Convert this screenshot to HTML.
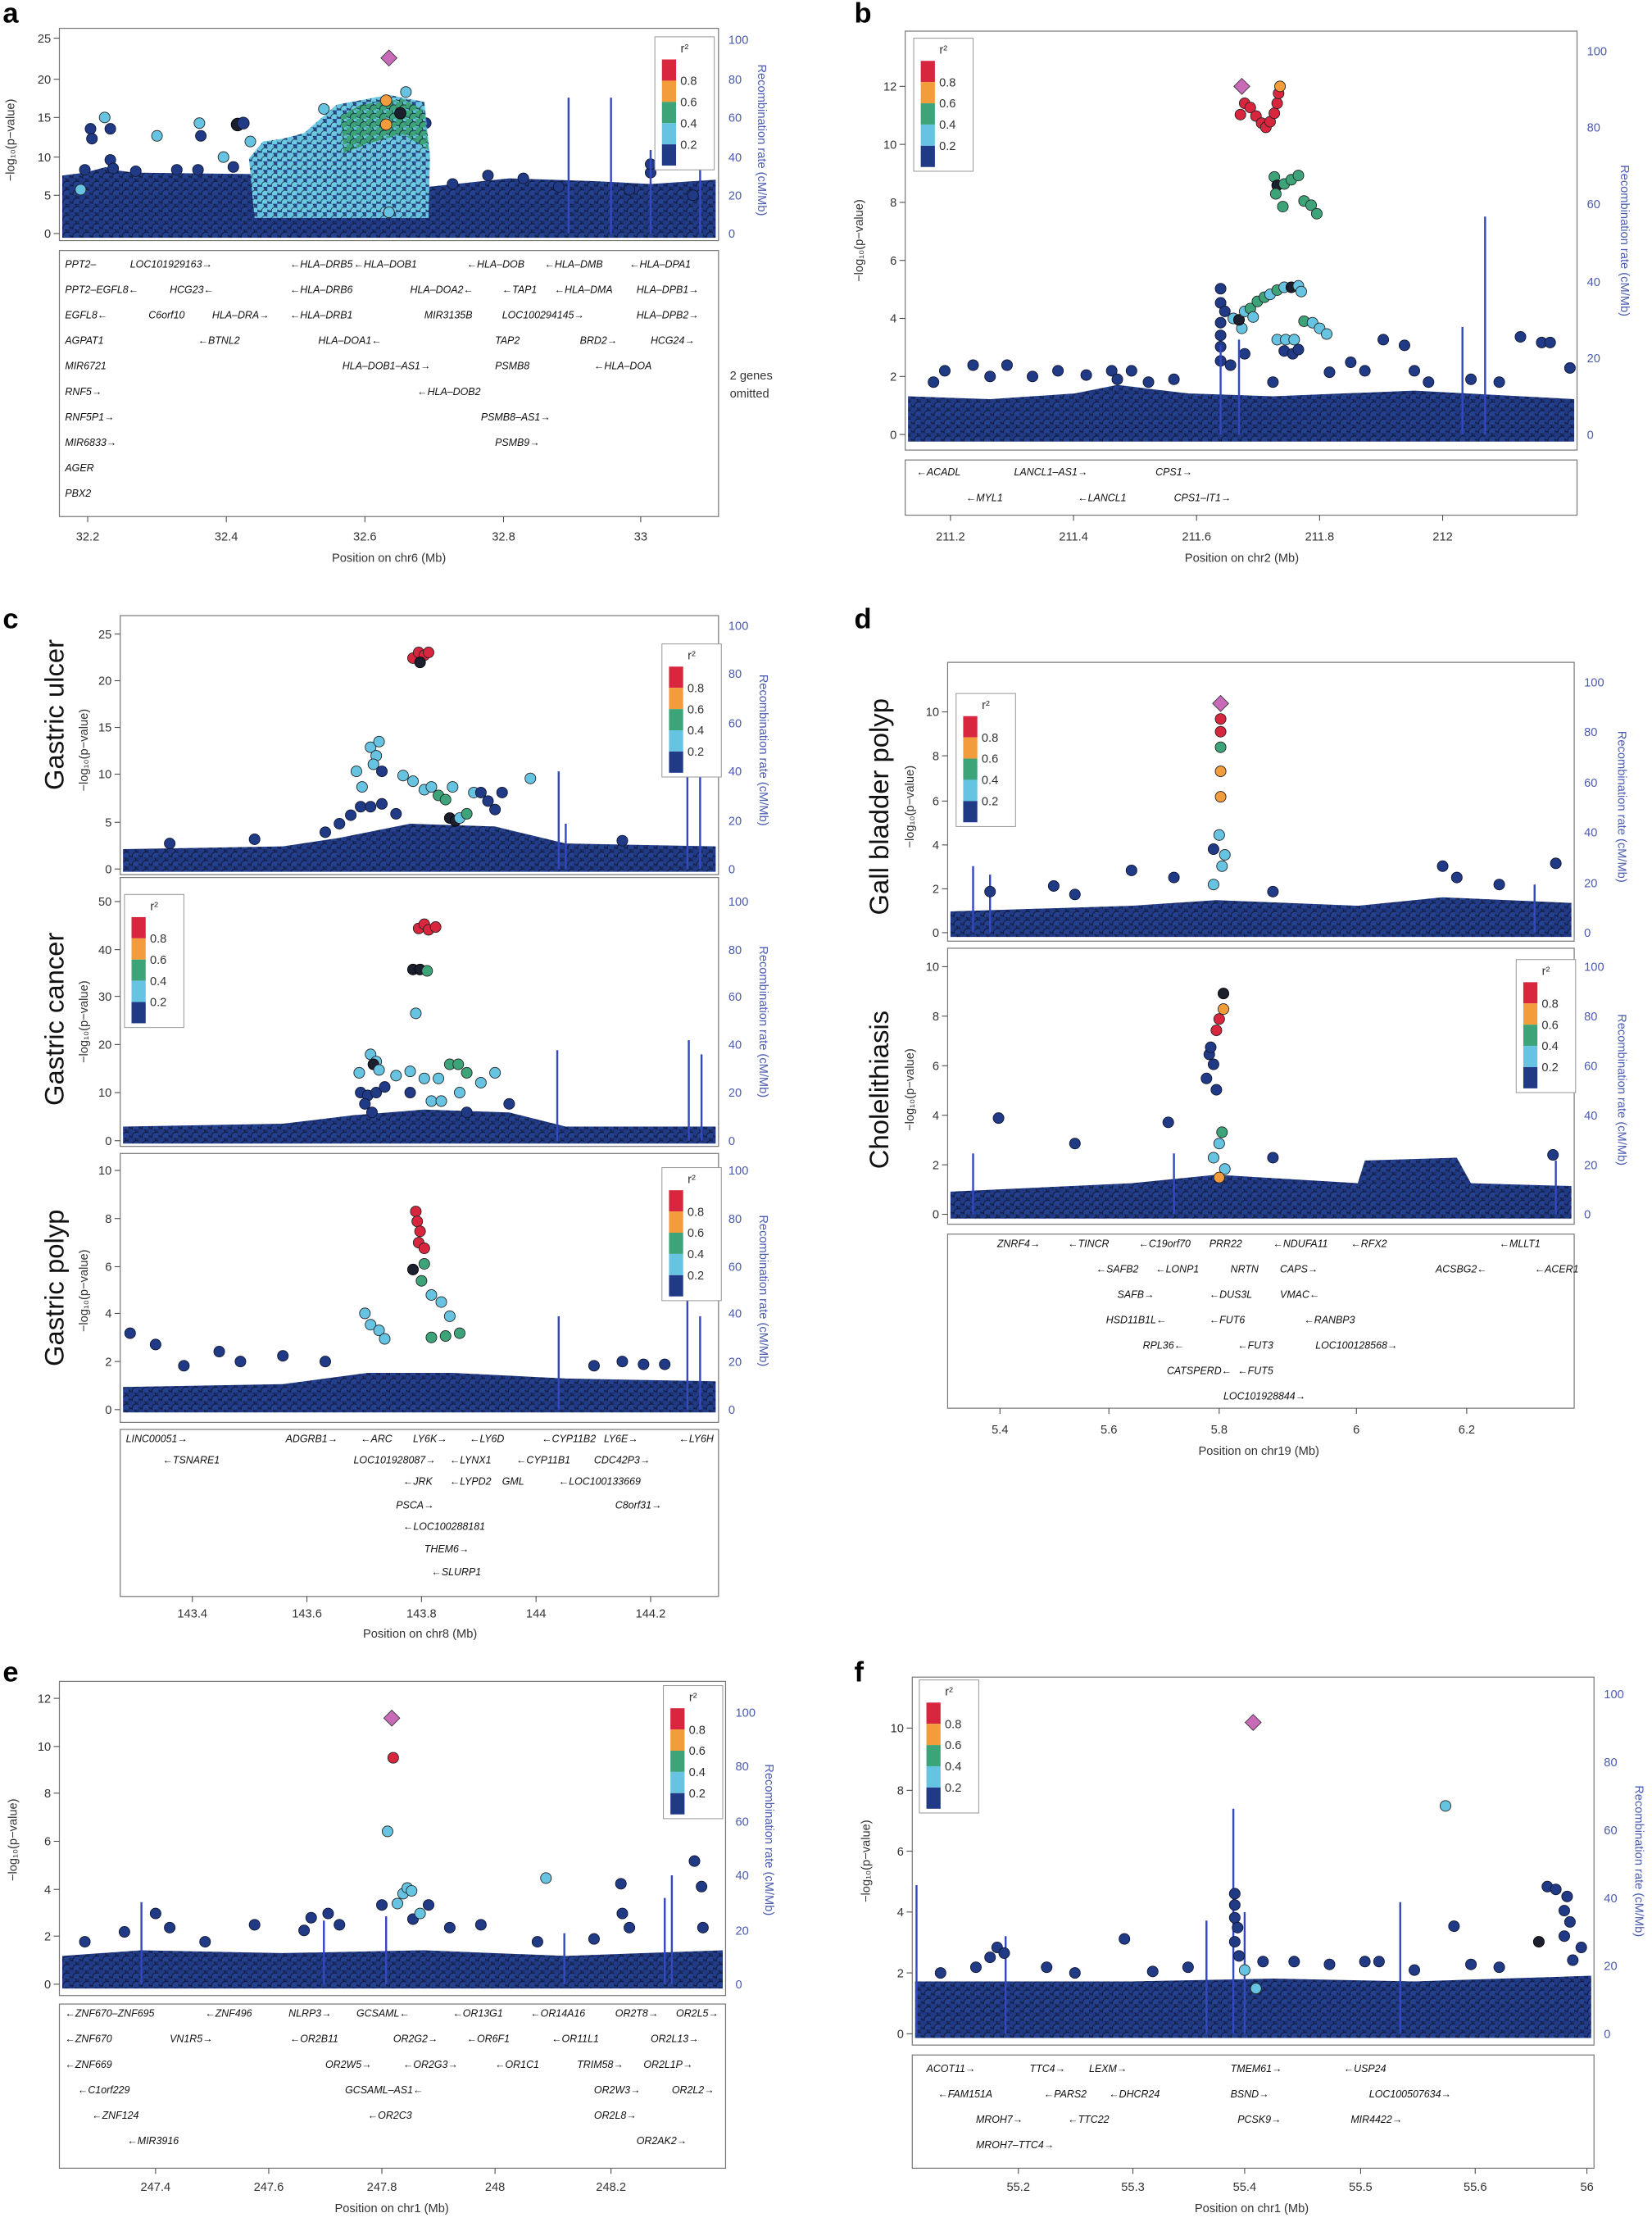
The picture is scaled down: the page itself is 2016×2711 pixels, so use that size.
<!DOCTYPE html>
<html><head><meta charset="utf-8">
<style>
html,body{margin:0;padding:0;background:#fff;}
svg{display:block;}
text{font-family:"Liberation Sans",sans-serif;}
.g{font-size:7.2px;font-style:italic;fill:#111;}
.t{font-size:8.5px;fill:#333;}
.rt{font-size:8.5px;fill:#4a5bb0;}
.lab{font-size:20px;font-weight:bold;fill:#000;}
.big{font-size:19px;fill:#111;}
.fr{fill:#fff;stroke:#777;stroke-width:0.7;}
.gb{fill:none;stroke:#777;stroke-width:0.7;}
.tk{stroke:#444;stroke-width:0.6;}
.sp{stroke:#3448c0;stroke-width:1.4;}
.n{fill:#213a86;stroke:#10162e;stroke-width:0.5;}
.c{fill:#66c4e2;stroke:#222;stroke-width:0.5;}
.gr{fill:#3da47a;stroke:#222;stroke-width:0.5;}
.o{fill:#f39c3c;stroke:#222;stroke-width:0.5;}
.r{fill:#d7263d;stroke:#222;stroke-width:0.5;}
.k{fill:#1c1f2e;stroke:#000;stroke-width:0.5;}
.p{fill:#c86ab8;stroke:#333;stroke-width:0.5;}
</style></head>
<body>
<svg width="2016" height="2711" viewBox="0 0 1168 1570" preserveAspectRatio="none" xmlns="http://www.w3.org/2000/svg">
<defs>
<pattern id="pn" width="7" height="6" patternUnits="userSpaceOnUse">
<rect width="7" height="6" fill="#1b2f6e"/>
<circle cx="2" cy="2" r="3" fill="#213a86" stroke="#10162e" stroke-width="0.5"/>
<circle cx="5.5" cy="5" r="3" fill="#24418f" stroke="#10162e" stroke-width="0.5"/>
</pattern>
<pattern id="pc" width="7" height="6" patternUnits="userSpaceOnUse">
<rect width="7" height="6" fill="#2a4a90"/>
<circle cx="2" cy="2" r="3" fill="#66c4e2" stroke="#234" stroke-width="0.5"/>
<circle cx="5.5" cy="5" r="2.6" fill="#6ccbe6" stroke="#234" stroke-width="0.5"/>
</pattern>
<pattern id="pg" width="7" height="6" patternUnits="userSpaceOnUse">
<rect width="7" height="6" fill="#66c4e2"/>
<circle cx="2" cy="2" r="3" fill="#3da47a" stroke="#123" stroke-width="0.5"/>
<circle cx="5.5" cy="5" r="3" fill="#3da47a" stroke="#123" stroke-width="0.5"/>
</pattern>
<g id="leg">
<rect x="0" y="0" width="42" height="94" fill="#fff" stroke="#999" stroke-width="0.6"/>
<text class="t" x="21" y="11" text-anchor="middle">r²</text>
<rect x="5" y="16" width="10" height="15" fill="#d7263d"/>
<rect x="5" y="31" width="10" height="15" fill="#f39c3c"/>
<rect x="5" y="46" width="10" height="15" fill="#3da47a"/>
<rect x="5" y="61" width="10" height="15" fill="#66c4e2"/>
<rect x="5" y="76" width="10" height="15" fill="#213a86"/>
<text class="t" x="18" y="34">0.8</text><text class="t" x="18" y="49">0.6</text><text class="t" x="18" y="64">0.4</text><text class="t" x="18" y="79">0.2</text>
</g>
</defs>

<text class="lab" x="2" y="16">a</text>
<text class="lab" x="604" y="16">b</text>
<text class="lab" x="2" y="444">c</text>
<text class="lab" x="604" y="444">d</text>
<text class="lab" x="2" y="1188">e</text>
<text class="lab" x="604" y="1188">f</text>

<text class="big" transform="translate(45,505) rotate(-90)" text-anchor="middle">Gastric ulcer</text>
<text class="big" transform="translate(45,720) rotate(-90)" text-anchor="middle">Gastric cancer</text>
<text class="big" transform="translate(45,910) rotate(-90)" text-anchor="middle">Gastric polyp</text>
<text class="big" transform="translate(628,570) rotate(-90)" text-anchor="middle">Gall bladder polyp</text>
<text class="big" transform="translate(628,770) rotate(-90)" text-anchor="middle">Cholelithiasis</text>

<!-- ================= PANEL A ================= -->
<rect class="fr" x="42" y="20" width="466" height="150"/>
<g class="t" text-anchor="end">
<text x="36" y="168">0</text><text x="36" y="141">5</text><text x="36" y="114">10</text><text x="36" y="86">15</text><text x="36" y="59">20</text><text x="36" y="30">25</text></g>
<g class="tk"><line x1="38" x2="42" y1="165" y2="165"/><line x1="38" x2="42" y1="138" y2="138"/><line x1="38" x2="42" y1="111" y2="111"/><line x1="38" x2="42" y1="83" y2="83"/><line x1="38" x2="42" y1="56" y2="56"/><line x1="38" x2="42" y1="27" y2="27"/></g>
<g class="rt"><text x="515" y="168">0</text><text x="515" y="141">20</text><text x="515" y="114">40</text><text x="515" y="86">60</text><text x="515" y="59">80</text><text x="515" y="31">100</text></g>
<text class="t" transform="translate(10,99) rotate(-90)" text-anchor="middle">−log₁₀(p−value)</text>
<text class="rt" transform="translate(536,99) rotate(90)" text-anchor="middle">Recombination rate (cM/Mb)</text>
<polygon fill="url(#pn)" points="44,168 44,124 60,122 75,118 80,120 95,122 180,123 180,150 303,150 303,132 360,126 420,128 460,130 506,127 506,168"/>
<g>
<circle class="n" cx="60" cy="120" r="3.8"/><circle class="n" cx="78" cy="113" r="3.8"/><circle class="n" cx="80" cy="119" r="3.8"/><circle class="n" cx="96" cy="121" r="3.8"/><circle class="n" cx="125" cy="120" r="3.8"/><circle class="n" cx="140" cy="120" r="3.8"/><circle class="n" cx="165" cy="118" r="3.8"/>
<circle class="n" cx="64" cy="91" r="3.8"/><circle class="n" cx="65" cy="98" r="3.8"/><circle class="n" cx="78" cy="91" r="3.8"/><circle class="n" cx="142" cy="96" r="3.8"/><circle class="k" cx="168" cy="88" r="4.5"/><circle class="n" cx="172" cy="87" r="4.2"/><circle class="n" cx="301" cy="87" r="3.8"/>
<circle class="c" cx="74" cy="83" r="3.8"/><circle class="c" cx="111" cy="96" r="3.8"/><circle class="c" cx="141" cy="87" r="3.8"/><circle class="c" cx="158" cy="111" r="3.8"/><circle class="c" cx="57" cy="134" r="3.8"/>
<circle class="n" cx="320" cy="130" r="3.8"/><circle class="n" cx="345" cy="124" r="3.8"/><circle class="n" cx="370" cy="126" r="3.8"/><circle class="n" cx="395" cy="132" r="3.8"/><circle class="n" cx="445" cy="134" r="3.8"/><circle class="n" cx="460" cy="122" r="3.8"/><circle class="n" cx="460" cy="116" r="3.8"/><circle class="n" cx="490" cy="138" r="3.8"/>
</g>
<polygon fill="url(#pc)" points="180,154 176,112 186,100 200,98 215,94 238,74 275,67 300,72 304,110 303,154"/>
<polygon fill="url(#pg)" points="243,108 241,82 255,74 285,70 300,78 303,106 285,95 265,100"/>
<circle class="c" cx="177" cy="100" r="3.8"/><circle class="c" cx="229" cy="77" r="3.8"/><circle class="c" cx="287" cy="65" r="3.8"/><circle class="c" cx="275" cy="150" r="3.8"/>
<circle class="o" cx="273" cy="71" r="4"/><circle class="o" cx="273" cy="88" r="4"/><circle class="k" cx="283" cy="80" r="4"/>
<rect class="p" x="271" y="37" width="8" height="8" transform="rotate(45 275 41)"/>
<line class="sp" x1="402" y1="165" x2="402" y2="69"/><line class="sp" x1="432" y1="165" x2="432" y2="69"/><line class="sp" x1="460" y1="165" x2="460" y2="106"/><line class="sp" x1="495" y1="165" x2="495" y2="117"/>
<use href="#leg" x="463" y="26"/>
<rect class="gb" x="42" y="177" width="466" height="188"/>
<g class="tk"><line x1="62" x2="62" y1="365" y2="369"/><line x1="160" x2="160" y1="365" y2="369"/><line x1="258" x2="258" y1="365" y2="369"/><line x1="356" x2="356" y1="365" y2="369"/><line x1="453" x2="453" y1="365" y2="369"/></g>
<g class="t" text-anchor="middle"><text x="62" y="382">32.2</text><text x="160" y="382">32.4</text><text x="258" y="382">32.6</text><text x="356" y="382">32.8</text><text x="453" y="382">33</text><text x="275" y="397">Position on chr6 (Mb)</text></g>

<!-- ================= PANEL B ================= -->
<rect class="fr" x="640" y="22" width="475" height="296"/>
<g class="t" text-anchor="end"><text x="634" y="310">0</text><text x="634" y="269">2</text><text x="634" y="228">4</text><text x="634" y="187">6</text><text x="634" y="146">8</text><text x="634" y="105">10</text><text x="634" y="64">12</text></g>
<g class="tk"><line x1="636" x2="640" y1="307" y2="307"/><line x1="636" x2="640" y1="266" y2="266"/><line x1="636" x2="640" y1="225" y2="225"/><line x1="636" x2="640" y1="184" y2="184"/><line x1="636" x2="640" y1="143" y2="143"/><line x1="636" x2="640" y1="102" y2="102"/><line x1="636" x2="640" y1="61" y2="61"/></g>
<g class="rt"><text x="1122" y="310">0</text><text x="1122" y="256">20</text><text x="1122" y="202">40</text><text x="1122" y="147">60</text><text x="1122" y="93">80</text><text x="1122" y="39">100</text></g>
<text class="t" transform="translate(610,170) rotate(-90)" text-anchor="middle">−log₁₀(p−value)</text>
<text class="rt" transform="translate(1146,170) rotate(90)" text-anchor="middle">Recombination rate (cM/Mb)</text>
<polygon fill="url(#pn)" points="642,312 642,280 700,282 760,278 790,272 840,278 900,280 1000,276 1113,282 1113,312"/>
<g>
<circle class="n" cx="660" cy="270" r="3.8"/><circle class="n" cx="668" cy="262" r="3.8"/><circle class="n" cx="688" cy="258" r="3.8"/><circle class="n" cx="700" cy="266" r="3.8"/><circle class="n" cx="712" cy="258" r="3.8"/><circle class="n" cx="730" cy="266" r="3.8"/><circle class="n" cx="748" cy="262" r="3.8"/><circle class="n" cx="768" cy="265" r="3.8"/><circle class="n" cx="786" cy="262" r="3.8"/><circle class="n" cx="790" cy="268" r="3.8"/><circle class="n" cx="800" cy="262" r="3.8"/><circle class="n" cx="812" cy="270" r="3.8"/><circle class="n" cx="830" cy="268" r="3.8"/>
<circle class="n" cx="863" cy="237" r="3.8"/><circle class="n" cx="863" cy="245" r="3.8"/><circle class="n" cx="863" cy="255" r="3.8"/><circle class="n" cx="870" cy="258" r="3.8"/><circle class="n" cx="880" cy="250" r="3.8"/><circle class="n" cx="900" cy="270" r="3.8"/>
<circle class="n" cx="908" cy="248" r="3.8"/><circle class="n" cx="914" cy="250" r="3.8"/><circle class="n" cx="940" cy="263" r="3.8"/><circle class="n" cx="955" cy="256" r="3.8"/><circle class="n" cx="965" cy="262" r="3.8"/><circle class="n" cx="978" cy="240" r="3.8"/><circle class="n" cx="993" cy="244" r="3.8"/><circle class="n" cx="1000" cy="262" r="3.8"/><circle class="n" cx="1010" cy="270" r="3.8"/><circle class="n" cx="1040" cy="268" r="3.8"/><circle class="n" cx="1060" cy="270" r="3.8"/><circle class="n" cx="1075" cy="238" r="3.8"/><circle class="n" cx="1090" cy="242" r="3.8"/><circle class="n" cx="1096" cy="242" r="3.8"/><circle class="n" cx="1110" cy="260" r="3.8"/>
</g>
<line class="sp" x1="863" y1="307" x2="863" y2="244"/><line class="sp" x1="876" y1="307" x2="876" y2="240"/><line class="sp" x1="1034" y1="307" x2="1034" y2="231"/><line class="sp" x1="1050" y1="307" x2="1050" y2="153"/>
<g>
<circle class="n" cx="863" cy="204" r="3.8"/><circle class="n" cx="863" cy="214" r="3.8"/><circle class="n" cx="866" cy="220" r="3.8"/><circle class="n" cx="863" cy="228" r="3.8"/>
<circle class="c" cx="872" cy="225" r="3.8"/><circle class="c" cx="878" cy="232" r="3.8"/><circle class="k" cx="876" cy="226" r="3.8"/><circle class="c" cx="880" cy="220" r="3.8"/><circle class="gr" cx="884" cy="218" r="3.8"/><circle class="gr" cx="889" cy="213" r="3.8"/><circle class="gr" cx="894" cy="210" r="3.8"/><circle class="c" cx="898" cy="208" r="3.8"/><circle class="gr" cx="903" cy="205" r="3.8"/><circle class="c" cx="908" cy="203" r="3.8"/><circle class="k" cx="913" cy="203" r="3.8"/><circle class="c" cx="918" cy="202" r="3.8"/><circle class="c" cx="920" cy="206" r="3.8"/><circle class="c" cx="886" cy="224" r="3.8"/>
<circle class="c" cx="903" cy="240" r="3.8"/><circle class="c" cx="909" cy="240" r="3.8"/><circle class="c" cx="915" cy="240" r="3.8"/><circle class="gr" cx="922" cy="227" r="3.8"/><circle class="c" cx="928" cy="228" r="3.8"/><circle class="c" cx="933" cy="232" r="3.8"/><circle class="c" cx="938" cy="236" r="3.8"/><circle class="n" cx="918" cy="247" r="3.8"/>
<circle class="gr" cx="901" cy="125" r="3.8"/><circle class="k" cx="903" cy="131" r="3.8"/><circle class="gr" cx="908" cy="130" r="3.8"/><circle class="gr" cx="913" cy="127" r="3.8"/><circle class="gr" cx="918" cy="124" r="3.8"/><circle class="gr" cx="902" cy="137" r="3.8"/><circle class="gr" cx="907" cy="146" r="3.8"/><circle class="gr" cx="922" cy="142" r="3.8"/><circle class="gr" cx="927" cy="145" r="3.8"/><circle class="gr" cx="931" cy="151" r="3.8"/>
<circle class="r" cx="877" cy="81" r="3.8"/><circle class="r" cx="880" cy="73" r="3.8"/><circle class="r" cx="884" cy="76" r="3.8"/><circle class="r" cx="888" cy="82" r="3.8"/><circle class="r" cx="892" cy="87" r="3.8"/><circle class="r" cx="895" cy="90" r="3.8"/><circle class="r" cx="898" cy="86" r="3.8"/><circle class="r" cx="901" cy="80" r="3.8"/><circle class="r" cx="903" cy="73" r="3.8"/><circle class="r" cx="904" cy="66" r="3.8"/><circle class="o" cx="905" cy="61" r="3.8"/>
</g>
<rect class="p" x="874" y="57" width="8" height="8" transform="rotate(45 878 61)"/>
<use href="#leg" x="646" y="27"/>
<rect class="gb" x="640" y="325" width="475" height="39"/>
<g class="tk"><line x1="672" x2="672" y1="364" y2="368"/><line x1="759" x2="759" y1="364" y2="368"/><line x1="846" x2="846" y1="364" y2="368"/><line x1="933" x2="933" y1="364" y2="368"/><line x1="1020" x2="1020" y1="364" y2="368"/></g>
<g class="t" text-anchor="middle"><text x="672" y="382">211.2</text><text x="759" y="382">211.4</text><text x="846" y="382">211.6</text><text x="933" y="382">211.8</text><text x="1020" y="382">212</text><text x="878" y="397">Position on chr2 (Mb)</text></g>

<!-- ================= PANEL C ================= -->
<rect class="fr" x="85" y="435" width="423" height="183"/>
<g class="t" text-anchor="end"><text x="79" y="617">0</text><text x="79" y="584">5</text><text x="79" y="550">10</text><text x="79" y="517">15</text><text x="79" y="484">20</text><text x="79" y="451">25</text></g>
<g class="tk"><line x1="81" x2="85" y1="614" y2="614"/><line x1="81" x2="85" y1="581" y2="581"/><line x1="81" x2="85" y1="547" y2="547"/><line x1="81" x2="85" y1="514" y2="514"/><line x1="81" x2="85" y1="481" y2="481"/><line x1="81" x2="85" y1="448" y2="448"/></g>
<g class="rt"><text x="515" y="617">0</text><text x="515" y="583">20</text><text x="515" y="548">40</text><text x="515" y="514">60</text><text x="515" y="479">80</text><text x="515" y="445">100</text></g>
<text class="t" transform="translate(62,530) rotate(-90)" text-anchor="middle">−log₁₀(p−value)</text>
<text class="rt" transform="translate(537,530) rotate(90)" text-anchor="middle">Recombination rate (cM/Mb)</text>
<polygon fill="url(#pn)" points="87,616 87,600 200,598 240,592 290,582 350,584 400,596 506,598 506,616"/>
<line class="sp" x1="395" y1="614" x2="395" y2="545"/><line class="sp" x1="486" y1="614" x2="486" y2="538"/><line class="sp" x1="495" y1="614" x2="495" y2="545"/><line class="sp" x1="400" y1="614" x2="400" y2="582"/>
<g>
<circle class="n" cx="120" cy="596" r="3.8"/><circle class="n" cx="180" cy="593" r="3.8"/><circle class="n" cx="230" cy="588" r="3.8"/><circle class="n" cx="240" cy="582" r="3.8"/><circle class="n" cx="248" cy="576" r="3.8"/><circle class="n" cx="255" cy="570" r="3.8"/><circle class="n" cx="262" cy="570" r="3.8"/><circle class="n" cx="270" cy="568" r="3.8"/><circle class="n" cx="280" cy="575" r="3.8"/><circle class="n" cx="345" cy="566" r="3.8"/><circle class="n" cx="350" cy="572" r="3.8"/><circle class="n" cx="355" cy="560" r="3.8"/><circle class="n" cx="440" cy="594" r="3.8"/><circle class="k" cx="318" cy="578" r="3.8"/><circle class="k" cx="322" cy="580" r="3.8"/><circle class="n" cx="270" cy="545" r="3.8"/>
<circle class="c" cx="262" cy="528" r="3.8"/><circle class="c" cx="266" cy="534" r="3.8"/><circle class="c" cx="264" cy="540" r="3.8"/><circle class="c" cx="268" cy="524" r="3.8"/><circle class="c" cx="252" cy="545" r="3.8"/><circle class="c" cx="256" cy="556" r="3.8"/>
<circle class="c" cx="285" cy="548" r="3.8"/><circle class="c" cx="292" cy="552" r="3.8"/><circle class="c" cx="300" cy="558" r="3.8"/><circle class="c" cx="305" cy="556" r="3.8"/><circle class="gr" cx="310" cy="562" r="3.8"/><circle class="gr" cx="315" cy="565" r="3.8"/><circle class="c" cx="320" cy="556" r="3.8"/><circle class="c" cx="335" cy="560" r="3.8"/><circle class="n" cx="340" cy="560" r="3.8"/><circle class="c" cx="375" cy="550" r="3.8"/><circle class="c" cx="325" cy="578" r="3.8"/><circle class="gr" cx="330" cy="575" r="3.8"/>
<circle class="r" cx="292" cy="465" r="3.8"/><circle class="r" cx="296" cy="461" r="3.8"/><circle class="r" cx="300" cy="463" r="3.8"/><circle class="r" cx="303" cy="461" r="3.8"/><circle class="k" cx="297" cy="468" r="3.8"/>
</g>
<use href="#leg" x="468" y="455"/>
<!-- cancer -->
<rect class="fr" x="85" y="620" width="423" height="190"/>
<g class="t" text-anchor="end"><text x="79" y="809">0</text><text x="79" y="775">10</text><text x="79" y="741">20</text><text x="79" y="707">30</text><text x="79" y="674">40</text><text x="79" y="640">50</text></g>
<g class="tk"><line x1="81" x2="85" y1="806" y2="806"/><line x1="81" x2="85" y1="772" y2="772"/><line x1="81" x2="85" y1="738" y2="738"/><line x1="81" x2="85" y1="704" y2="704"/><line x1="81" x2="85" y1="671" y2="671"/><line x1="81" x2="85" y1="637" y2="637"/></g>
<g class="rt"><text x="515" y="809">0</text><text x="515" y="775">20</text><text x="515" y="741">40</text><text x="515" y="707">60</text><text x="515" y="674">80</text><text x="515" y="640">100</text></g>
<text class="t" transform="translate(62,722) rotate(-90)" text-anchor="middle">−log₁₀(p−value)</text>
<text class="rt" transform="translate(537,722) rotate(90)" text-anchor="middle">Recombination rate (cM/Mb)</text>
<polygon fill="url(#pn)" points="87,808 87,796 200,794 250,788 300,784 360,786 400,796 506,796 506,808"/>
<line class="sp" x1="394" y1="806" x2="394" y2="742"/><line class="sp" x1="487" y1="806" x2="487" y2="735"/><line class="sp" x1="496" y1="806" x2="496" y2="745"/>
<g>
<circle class="n" cx="255" cy="772" r="3.8"/><circle class="n" cx="260" cy="774" r="3.8"/><circle class="n" cx="266" cy="772" r="3.8"/><circle class="n" cx="272" cy="768" r="3.8"/><circle class="n" cx="258" cy="780" r="3.8"/><circle class="n" cx="263" cy="786" r="3.8"/><circle class="n" cx="290" cy="772" r="3.8"/><circle class="n" cx="330" cy="786" r="3.8"/><circle class="n" cx="360" cy="780" r="3.8"/>
<circle class="c" cx="262" cy="745" r="3.8"/><circle class="c" cx="266" cy="750" r="3.8"/><circle class="k" cx="264" cy="752" r="3.8"/><circle class="c" cx="268" cy="756" r="3.8"/><circle class="c" cx="254" cy="758" r="3.8"/><circle class="c" cx="280" cy="760" r="3.8"/><circle class="c" cx="290" cy="757" r="3.8"/><circle class="c" cx="300" cy="762" r="3.8"/><circle class="c" cx="310" cy="762" r="3.8"/><circle class="gr" cx="318" cy="752" r="3.8"/><circle class="gr" cx="324" cy="752" r="3.8"/><circle class="gr" cx="330" cy="758" r="3.8"/><circle class="c" cx="340" cy="765" r="3.8"/><circle class="c" cx="350" cy="758" r="3.8"/><circle class="c" cx="325" cy="772" r="3.8"/><circle class="c" cx="305" cy="778" r="3.8"/><circle class="c" cx="312" cy="778" r="3.8"/>
<circle class="c" cx="294" cy="716" r="3.8"/><circle class="k" cx="292" cy="685" r="3.8"/><circle class="k" cx="297" cy="685" r="3.8"/><circle class="gr" cx="302" cy="686" r="3.8"/>
<circle class="r" cx="296" cy="656" r="3.8"/><circle class="r" cx="300" cy="653" r="3.8"/><circle class="r" cx="303" cy="657" r="3.8"/><circle class="r" cx="308" cy="655" r="3.8"/>
</g>
<use href="#leg" x="88" y="632"/>
<!-- polyp -->
<rect class="fr" x="85" y="815" width="423" height="190"/>
<g class="t" text-anchor="end"><text x="79" y="999">0</text><text x="79" y="965">2</text><text x="79" y="931">4</text><text x="79" y="898">6</text><text x="79" y="864">8</text><text x="79" y="830">10</text></g>
<g class="tk"><line x1="81" x2="85" y1="996" y2="996"/><line x1="81" x2="85" y1="962" y2="962"/><line x1="81" x2="85" y1="928" y2="928"/><line x1="81" x2="85" y1="895" y2="895"/><line x1="81" x2="85" y1="861" y2="861"/><line x1="81" x2="85" y1="827" y2="827"/></g>
<g class="rt"><text x="515" y="999">0</text><text x="515" y="965">20</text><text x="515" y="931">40</text><text x="515" y="898">60</text><text x="515" y="864">80</text><text x="515" y="830">100</text></g>
<text class="t" transform="translate(62,912) rotate(-90)" text-anchor="middle">−log₁₀(p−value)</text>
<text class="rt" transform="translate(537,912) rotate(90)" text-anchor="middle">Recombination rate (cM/Mb)</text>
<polygon fill="url(#pn)" points="87,998 87,980 200,978 260,970 320,970 400,974 506,976 506,998"/>
<line class="sp" x1="395" y1="996" x2="395" y2="930"/><line class="sp" x1="486" y1="996" x2="486" y2="900"/><line class="sp" x1="495" y1="996" x2="495" y2="930"/>
<g>
<circle class="n" cx="92" cy="942" r="3.8"/><circle class="n" cx="110" cy="950" r="3.8"/><circle class="n" cx="130" cy="965" r="3.8"/><circle class="n" cx="155" cy="955" r="3.8"/><circle class="n" cx="170" cy="962" r="3.8"/><circle class="n" cx="200" cy="958" r="3.8"/><circle class="n" cx="230" cy="962" r="3.8"/><circle class="n" cx="420" cy="965" r="3.8"/><circle class="n" cx="440" cy="962" r="3.8"/><circle class="n" cx="455" cy="964" r="3.8"/><circle class="n" cx="470" cy="964" r="3.8"/>
<circle class="c" cx="258" cy="928" r="3.8"/><circle class="c" cx="262" cy="936" r="3.8"/><circle class="c" cx="268" cy="940" r="3.8"/><circle class="c" cx="272" cy="946" r="3.8"/><circle class="c" cx="305" cy="915" r="3.8"/><circle class="c" cx="312" cy="920" r="3.8"/><circle class="c" cx="318" cy="930" r="3.8"/><circle class="gr" cx="305" cy="945" r="3.8"/><circle class="gr" cx="315" cy="944" r="3.8"/><circle class="gr" cx="325" cy="942" r="3.8"/><circle class="k" cx="292" cy="897" r="3.8"/>
<circle class="gr" cx="300" cy="893" r="3.8"/><circle class="gr" cx="298" cy="905" r="3.8"/>
<circle class="r" cx="294" cy="856" r="3.8"/><circle class="r" cx="295" cy="863" r="3.8"/><circle class="r" cx="297" cy="870" r="3.8"/><circle class="r" cx="296" cy="878" r="3.8"/><circle class="r" cx="300" cy="882" r="3.8"/>
</g>
<use href="#leg" x="468" y="825"/>
<rect class="gb" x="85" y="1010" width="423" height="118"/>
<g class="tk"><line x1="136" x2="136" y1="1128" y2="1132"/><line x1="217" x2="217" y1="1128" y2="1132"/><line x1="298" x2="298" y1="1128" y2="1132"/><line x1="379" x2="379" y1="1128" y2="1132"/><line x1="460" x2="460" y1="1128" y2="1132"/></g>
<g class="t" text-anchor="middle"><text x="136" y="1143">143.4</text><text x="217" y="1143">143.6</text><text x="298" y="1143">143.8</text><text x="379" y="1143">144</text><text x="460" y="1143">144.2</text><text x="297" y="1157">Position on chr8 (Mb)</text></g>

<!-- ================= PANEL D ================= -->
<rect class="fr" x="670" y="468" width="443" height="197"/>
<g class="t" text-anchor="end"><text x="664" y="662">0</text><text x="664" y="631">2</text><text x="664" y="600">4</text><text x="664" y="569">6</text><text x="664" y="537">8</text><text x="664" y="506">10</text></g>
<g class="tk"><line x1="666" x2="670" y1="659" y2="659"/><line x1="666" x2="670" y1="628" y2="628"/><line x1="666" x2="670" y1="597" y2="597"/><line x1="666" x2="670" y1="566" y2="566"/><line x1="666" x2="670" y1="534" y2="534"/><line x1="666" x2="670" y1="503" y2="503"/></g>
<g class="rt"><text x="1120" y="662">0</text><text x="1120" y="627">20</text><text x="1120" y="591">40</text><text x="1120" y="556">60</text><text x="1120" y="520">80</text><text x="1120" y="485">100</text></g>
<text class="t" transform="translate(646,570) rotate(-90)" text-anchor="middle">−log₁₀(p−value)</text>
<text class="rt" transform="translate(1144,570) rotate(90)" text-anchor="middle">Recombination rate (cM/Mb)</text>
<polygon fill="url(#pn)" points="672,662 672,644 800,640 860,636 960,640 1020,634 1111,638 1111,662"/>
<line class="sp" x1="688" y1="659" x2="688" y2="612"/><line class="sp" x1="700" y1="659" x2="700" y2="618"/><line class="sp" x1="1085" y1="659" x2="1085" y2="625"/>
<g>
<circle class="n" cx="700" cy="630" r="3.8"/><circle class="n" cx="745" cy="626" r="3.8"/><circle class="n" cx="760" cy="632" r="3.8"/><circle class="n" cx="800" cy="615" r="3.8"/><circle class="n" cx="830" cy="620" r="3.8"/><circle class="n" cx="900" cy="630" r="3.8"/><circle class="n" cx="1020" cy="612" r="3.8"/><circle class="n" cx="1030" cy="620" r="3.8"/><circle class="n" cx="1100" cy="610" r="3.8"/><circle class="n" cx="1060" cy="625" r="3.8"/>
<circle class="c" cx="862" cy="590" r="3.8"/><circle class="n" cx="858" cy="600" r="3.8"/><circle class="c" cx="864" cy="612" r="3.8"/><circle class="c" cx="858" cy="625" r="3.8"/><circle class="c" cx="866" cy="604" r="3.8"/>
<circle class="o" cx="863" cy="563" r="3.8"/><circle class="o" cx="863" cy="545" r="3.8"/><circle class="gr" cx="863" cy="528" r="3.8"/>
<circle class="r" cx="863" cy="517" r="3.8"/><circle class="r" cx="863" cy="508" r="3.8"/>
</g>
<rect class="p" x="859" y="493" width="8" height="8" transform="rotate(45 863 497)"/>
<use href="#leg" x="676" y="490"/>
<!-- chole -->
<rect class="fr" x="670" y="670" width="443" height="195"/>
<g class="t" text-anchor="end"><text x="664" y="861">0</text><text x="664" y="826">2</text><text x="664" y="791">4</text><text x="664" y="756">6</text><text x="664" y="721">8</text><text x="664" y="686">10</text></g>
<g class="tk"><line x1="666" x2="670" y1="858" y2="858"/><line x1="666" x2="670" y1="823" y2="823"/><line x1="666" x2="670" y1="788" y2="788"/><line x1="666" x2="670" y1="753" y2="753"/><line x1="666" x2="670" y1="718" y2="718"/><line x1="666" x2="670" y1="683" y2="683"/></g>
<g class="rt"><text x="1120" y="861">0</text><text x="1120" y="826">20</text><text x="1120" y="791">40</text><text x="1120" y="756">60</text><text x="1120" y="721">80</text><text x="1120" y="686">100</text></g>
<text class="t" transform="translate(646,770) rotate(-90)" text-anchor="middle">−log₁₀(p−value)</text>
<text class="rt" transform="translate(1144,770) rotate(90)" text-anchor="middle">Recombination rate (cM/Mb)</text>
<polygon fill="url(#pn)" points="672,861 672,842 800,836 860,830 960,836 965,820 1030,818 1040,836 1111,838 1111,861"/>
<line class="sp" x1="830" y1="858" x2="830" y2="815"/><line class="sp" x1="688" y1="858" x2="688" y2="815"/><line class="sp" x1="1100" y1="858" x2="1100" y2="820"/>
<g>
<circle class="n" cx="706" cy="790" r="3.8"/><circle class="n" cx="760" cy="808" r="3.8"/><circle class="n" cx="826" cy="793" r="3.8"/><circle class="n" cx="900" cy="818" r="3.8"/><circle class="n" cx="1098" cy="816" r="3.8"/>
<circle class="n" cx="855" cy="745" r="3.8"/><circle class="n" cx="858" cy="752" r="3.8"/><circle class="n" cx="853" cy="762" r="3.8"/><circle class="n" cx="860" cy="770" r="3.8"/><circle class="n" cx="856" cy="740" r="3.8"/>
<circle class="gr" cx="864" cy="800" r="3.8"/><circle class="c" cx="862" cy="808" r="3.8"/><circle class="c" cx="858" cy="818" r="3.8"/><circle class="c" cx="866" cy="826" r="3.8"/><circle class="o" cx="862" cy="832" r="3.8"/>
<circle class="r" cx="862" cy="720" r="3.8"/><circle class="o" cx="865" cy="713" r="3.8"/><circle class="r" cx="860" cy="728" r="3.8"/><circle class="k" cx="865" cy="702" r="3.8"/>
</g>
<use href="#leg" x="1072" y="678"/>
<rect class="gb" x="670" y="872" width="443" height="123"/>
<g class="tk"><line x1="707" x2="707" y1="995" y2="999"/><line x1="784" x2="784" y1="995" y2="999"/><line x1="862" x2="862" y1="995" y2="999"/><line x1="959" x2="959" y1="995" y2="999"/><line x1="1037" x2="1037" y1="995" y2="999"/></g>
<g class="t" text-anchor="middle"><text x="707" y="1013">5.4</text><text x="784" y="1013">5.6</text><text x="862" y="1013">5.8</text><text x="959" y="1013">6</text><text x="1037" y="1013">6.2</text><text x="890" y="1028">Position on chr19 (Mb)</text></g>

<!-- ================= PANEL E ================= -->
<rect class="fr" x="42" y="1188" width="471" height="222"/>
<g class="t" text-anchor="end"><text x="36" y="1405">0</text><text x="36" y="1371">2</text><text x="36" y="1338">4</text><text x="36" y="1304">6</text><text x="36" y="1270">8</text><text x="36" y="1237">10</text><text x="36" y="1203">12</text></g>
<g class="tk"><line x1="38" x2="42" y1="1402" y2="1402"/><line x1="38" x2="42" y1="1368" y2="1368"/><line x1="38" x2="42" y1="1335" y2="1335"/><line x1="38" x2="42" y1="1301" y2="1301"/><line x1="38" x2="42" y1="1267" y2="1267"/><line x1="38" x2="42" y1="1234" y2="1234"/><line x1="38" x2="42" y1="1200" y2="1200"/></g>
<g class="rt"><text x="520" y="1405">0</text><text x="520" y="1367">20</text><text x="520" y="1328">40</text><text x="520" y="1290">60</text><text x="520" y="1251">80</text><text x="520" y="1213">100</text></g>
<text class="t" transform="translate(12,1300) rotate(-90)" text-anchor="middle">−log₁₀(p−value)</text>
<text class="rt" transform="translate(541,1300) rotate(90)" text-anchor="middle">Recombination rate (cM/Mb)</text>
<polygon fill="url(#pn)" points="44,1405 44,1382 100,1378 200,1380 300,1378 400,1382 511,1378 511,1405"/>
<line class="sp" x1="100" y1="1402" x2="100" y2="1344"/><line class="sp" x1="229" y1="1402" x2="229" y2="1357"/><line class="sp" x1="273" y1="1402" x2="273" y2="1354"/><line class="sp" x1="399" y1="1402" x2="399" y2="1366"/><line class="sp" x1="470" y1="1402" x2="470" y2="1341"/><line class="sp" x1="475" y1="1402" x2="475" y2="1325"/>
<g>
<circle class="n" cx="60" cy="1372" r="3.8"/><circle class="n" cx="88" cy="1365" r="3.8"/><circle class="n" cx="110" cy="1352" r="3.8"/><circle class="n" cx="120" cy="1362" r="3.8"/><circle class="n" cx="145" cy="1372" r="3.8"/><circle class="n" cx="180" cy="1360" r="3.8"/><circle class="n" cx="215" cy="1364" r="3.8"/><circle class="n" cx="220" cy="1355" r="3.8"/><circle class="n" cx="232" cy="1352" r="3.8"/><circle class="n" cx="240" cy="1360" r="3.8"/><circle class="n" cx="270" cy="1346" r="3.8"/><circle class="n" cx="292" cy="1356" r="3.8"/><circle class="n" cx="303" cy="1346" r="3.8"/><circle class="n" cx="318" cy="1362" r="3.8"/><circle class="n" cx="340" cy="1360" r="3.8"/><circle class="n" cx="380" cy="1372" r="3.8"/><circle class="n" cx="420" cy="1370" r="3.8"/><circle class="n" cx="440" cy="1352" r="3.8"/><circle class="n" cx="445" cy="1362" r="3.8"/><circle class="n" cx="497" cy="1362" r="3.8"/>
<circle class="n" cx="439" cy="1331" r="3.8"/><circle class="n" cx="491" cy="1315" r="3.8"/><circle class="n" cx="496" cy="1333" r="3.8"/>
<circle class="c" cx="281" cy="1345" r="3.8"/><circle class="c" cx="285" cy="1338" r="3.8"/><circle class="c" cx="288" cy="1334" r="3.8"/><circle class="c" cx="291" cy="1336" r="3.8"/><circle class="c" cx="297" cy="1352" r="3.8"/><circle class="c" cx="386" cy="1327" r="3.8"/><circle class="c" cx="274" cy="1294" r="3.8"/>
<circle class="r" cx="278" cy="1242" r="3.8"/>
</g>
<rect class="p" x="273" y="1210" width="8" height="8" transform="rotate(45 277 1214)"/>
<use href="#leg" x="469" y="1191"/>
<rect class="gb" x="42" y="1416" width="471" height="116"/>
<g class="tk"><line x1="110" x2="110" y1="1532" y2="1536"/><line x1="190" x2="190" y1="1532" y2="1536"/><line x1="270" x2="270" y1="1532" y2="1536"/><line x1="350" x2="350" y1="1532" y2="1536"/><line x1="432" x2="432" y1="1532" y2="1536"/></g>
<g class="t" text-anchor="middle"><text x="110" y="1548">247.4</text><text x="190" y="1548">247.6</text><text x="270" y="1548">247.8</text><text x="350" y="1548">248</text><text x="432" y="1548">248.2</text><text x="277" y="1563">Position on chr1 (Mb)</text></g>

<!-- ================= PANEL F ================= -->
<rect class="fr" x="645" y="1185" width="482" height="260"/>
<g class="t" text-anchor="end"><text x="639" y="1440">0</text><text x="639" y="1397">2</text><text x="639" y="1354">4</text><text x="639" y="1311">6</text><text x="639" y="1268">8</text><text x="639" y="1224">10</text></g>
<g class="tk"><line x1="641" x2="645" y1="1437" y2="1437"/><line x1="641" x2="645" y1="1394" y2="1394"/><line x1="641" x2="645" y1="1351" y2="1351"/><line x1="641" x2="645" y1="1308" y2="1308"/><line x1="641" x2="645" y1="1265" y2="1265"/><line x1="641" x2="645" y1="1221" y2="1221"/></g>
<g class="rt"><text x="1134" y="1440">0</text><text x="1134" y="1392">20</text><text x="1134" y="1344">40</text><text x="1134" y="1296">60</text><text x="1134" y="1248">80</text><text x="1134" y="1200">100</text></g>
<text class="t" transform="translate(615,1315) rotate(-90)" text-anchor="middle">−log₁₀(p−value)</text>
<text class="rt" transform="translate(1156,1315) rotate(90)" text-anchor="middle">Recombination rate (cM/Mb)</text>
<polygon fill="url(#pn)" points="647,1440 647,1400 800,1400 900,1398 1000,1400 1125,1396 1125,1440"/>
<line class="sp" x1="648" y1="1437" x2="648" y2="1332"/><line class="sp" x1="711" y1="1437" x2="711" y2="1368"/><line class="sp" x1="853" y1="1437" x2="853" y2="1357"/><line class="sp" x1="872" y1="1437" x2="872" y2="1278"/><line class="sp" x1="880" y1="1437" x2="880" y2="1351"/><line class="sp" x1="990" y1="1437" x2="990" y2="1344"/>
<g>
<circle class="n" cx="665" cy="1394" r="3.8"/><circle class="n" cx="690" cy="1390" r="3.8"/><circle class="n" cx="700" cy="1383" r="3.8"/><circle class="n" cx="705" cy="1376" r="3.8"/><circle class="n" cx="710" cy="1380" r="3.8"/><circle class="n" cx="740" cy="1390" r="3.8"/><circle class="n" cx="760" cy="1394" r="3.8"/><circle class="n" cx="795" cy="1370" r="3.8"/><circle class="n" cx="815" cy="1393" r="3.8"/><circle class="n" cx="840" cy="1390" r="3.8"/><circle class="n" cx="893" cy="1386" r="3.8"/><circle class="n" cx="915" cy="1386" r="3.8"/><circle class="n" cx="940" cy="1388" r="3.8"/><circle class="n" cx="965" cy="1386" r="3.8"/><circle class="n" cx="975" cy="1386" r="3.8"/><circle class="n" cx="1000" cy="1392" r="3.8"/><circle class="n" cx="1040" cy="1388" r="3.8"/><circle class="n" cx="1060" cy="1390" r="3.8"/><circle class="n" cx="1028" cy="1361" r="3.8"/>
<circle class="n" cx="873" cy="1338" r="3.8"/><circle class="n" cx="873" cy="1346" r="3.8"/><circle class="n" cx="873" cy="1355" r="3.8"/><circle class="n" cx="875" cy="1362" r="3.8"/><circle class="n" cx="873" cy="1372" r="3.8"/><circle class="n" cx="876" cy="1382" r="3.8"/><circle class="c" cx="880" cy="1392" r="3.8"/><circle class="c" cx="888" cy="1405" r="3.8"/>
<circle class="n" cx="1094" cy="1333" r="3.8"/><circle class="n" cx="1100" cy="1335" r="3.8"/><circle class="n" cx="1108" cy="1340" r="3.8"/><circle class="n" cx="1106" cy="1350" r="3.8"/><circle class="n" cx="1110" cy="1358" r="3.8"/><circle class="n" cx="1106" cy="1368" r="3.8"/><circle class="k" cx="1088" cy="1372" r="3.8"/><circle class="n" cx="1118" cy="1376" r="3.8"/><circle class="n" cx="1112" cy="1385" r="3.8"/>
<circle class="c" cx="1022" cy="1276" r="3.8"/>
</g>
<rect class="p" x="882" y="1213" width="8" height="8" transform="rotate(45 886 1217)"/>
<use href="#leg" x="650" y="1187"/>
<rect class="gb" x="645" y="1452" width="482" height="80"/>
<g class="tk"><line x1="720" x2="720" y1="1532" y2="1536"/><line x1="801" x2="801" y1="1532" y2="1536"/><line x1="880" x2="880" y1="1532" y2="1536"/><line x1="962" x2="962" y1="1532" y2="1536"/><line x1="1043" x2="1043" y1="1532" y2="1536"/><line x1="1122" x2="1122" y1="1532" y2="1536"/></g>
<g class="t" text-anchor="middle"><text x="720" y="1548">55.2</text><text x="801" y="1548">55.3</text><text x="880" y="1548">55.4</text><text x="962" y="1548">55.5</text><text x="1043" y="1548">55.6</text><text x="1122" y="1548">56</text><text x="885" y="1563">Position on chr1 (Mb)</text></g>

<!-- gene labels a -->
<g class="g">
<text x="46" y="189">PPT2–</text><text x="92" y="189">LOC101929163→</text><text x="205" y="189">←HLA–DRB5</text><text x="250" y="189">←HLA–DOB1</text><text x="330" y="189">←HLA–DOB</text><text x="385" y="189">←HLA–DMB</text><text x="445" y="189">←HLA–DPA1</text>
<text x="46" y="207">PPT2–EGFL8←</text><text x="120" y="207">HCG23←</text><text x="205" y="207">←HLA–DRB6</text><text x="290" y="207">HLA–DOA2←</text><text x="355" y="207">←TAP1</text><text x="392" y="207">←HLA–DMA</text><text x="450" y="207">HLA–DPB1→</text>
<text x="46" y="225">EGFL8←</text><text x="105" y="225">C6orf10</text><text x="150" y="225">HLA–DRA→</text><text x="205" y="225">←HLA–DRB1</text><text x="300" y="225">MIR3135B</text><text x="355" y="225">LOC100294145→</text><text x="450" y="225">HLA–DPB2→</text>
<text x="46" y="243">AGPAT1</text><text x="140" y="243">←BTNL2</text><text x="225" y="243">HLA–DOA1←</text><text x="350" y="243">TAP2</text><text x="410" y="243">BRD2→</text><text x="460" y="243">HCG24→</text>
<text x="46" y="261">MIR6721</text><text x="242" y="261">HLA–DOB1–AS1→</text><text x="350" y="261">PSMB8</text><text x="420" y="261">←HLA–DOA</text>
<text x="46" y="279">RNF5→</text><text x="295" y="279">←HLA–DOB2</text>
<text x="46" y="297">RNF5P1→</text><text x="340" y="297">PSMB8–AS1→</text>
<text x="46" y="315">MIR6833→</text><text x="350" y="315">PSMB9→</text>
<text x="46" y="333">AGER</text>
<text x="46" y="351">PBX2</text>
</g>
<text class="t" x="516" y="268">2 genes</text><text class="t" x="516" y="281">omitted</text>
<g class="g">
<text x="648" y="336">←ACADL</text><text x="717" y="336">LANCL1–AS1→</text><text x="817" y="336">CPS1→</text>
<text x="683" y="354">←MYL1</text><text x="762" y="354">←LANCL1</text><text x="830" y="354">CPS1–IT1→</text>
</g>
<g class="g">
<text x="89" y="1019">LINC00051→</text><text x="202" y="1019">ADGRB1→</text><text x="255" y="1019">←ARC</text><text x="292" y="1019">LY6K→</text><text x="332" y="1019">←LY6D</text><text x="383" y="1019">←CYP11B2</text><text x="427" y="1019">LY6E→</text><text x="480" y="1019">←LY6H</text>
<text x="115" y="1034">←TSNARE1</text><text x="250" y="1034">LOC101928087→</text><text x="318" y="1034">←LYNX1</text><text x="365" y="1034">←CYP11B1</text><text x="420" y="1034">CDC42P3→</text>
<text x="285" y="1049">←JRK</text><text x="318" y="1049">←LYPD2</text><text x="355" y="1049">GML</text><text x="395" y="1049">←LOC100133669</text>
<text x="280" y="1066">PSCA→</text><text x="435" y="1066">C8orf31→</text>
<text x="285" y="1081">←LOC100288181</text>
<text x="300" y="1097">THEM6→</text>
<text x="305" y="1113">←SLURP1</text>
</g>
<g class="g">
<text x="705" y="881">ZNRF4→</text><text x="755" y="881">←TINCR</text><text x="805" y="881">←C19orf70</text><text x="855" y="881">PRR22</text><text x="900" y="881">←NDUFA11</text><text x="955" y="881">←RFX2</text><text x="1060" y="881">←MLLT1</text>
<text x="775" y="899">←SAFB2</text><text x="817" y="899">←LONP1</text><text x="870" y="899">NRTN</text><text x="905" y="899">CAPS→</text><text x="1015" y="899">ACSBG2←</text><text x="1085" y="899">←ACER1</text>
<text x="790" y="917">SAFB→</text><text x="855" y="917">←DUS3L</text><text x="905" y="917">VMAC←</text>
<text x="782" y="935">HSD11B1L←</text><text x="855" y="935">←FUT6</text><text x="922" y="935">←RANBP3</text>
<text x="808" y="953">RPL36←</text><text x="875" y="953">←FUT3</text><text x="930" y="953">LOC100128568→</text>
<text x="825" y="971">CATSPERD←</text><text x="875" y="971">←FUT5</text>
<text x="865" y="989">LOC101928844→</text>
</g>
<g class="g">
<text x="46" y="1425">←ZNF670–ZNF695</text><text x="145" y="1425">←ZNF496</text><text x="204" y="1425">NLRP3→</text><text x="252" y="1425">GCSAML←</text><text x="320" y="1425">←OR13G1</text><text x="375" y="1425">←OR14A16</text><text x="435" y="1425">OR2T8→</text><text x="478" y="1425">OR2L5→</text>
<text x="46" y="1443">←ZNF670</text><text x="120" y="1443">VN1R5→</text><text x="205" y="1443">←OR2B11</text><text x="278" y="1443">OR2G2→</text><text x="330" y="1443">←OR6F1</text><text x="390" y="1443">←OR11L1</text><text x="460" y="1443">OR2L13→</text>
<text x="46" y="1461">←ZNF669</text><text x="230" y="1461">OR2W5→</text><text x="285" y="1461">←OR2G3→</text><text x="350" y="1461">←OR1C1</text><text x="408" y="1461">TRIM58→</text><text x="455" y="1461">OR2L1P→</text>
<text x="55" y="1479">←C1orf229</text><text x="244" y="1479">GCSAML–AS1←</text><text x="420" y="1479">OR2W3→</text><text x="475" y="1479">OR2L2→</text>
<text x="65" y="1497">←ZNF124</text><text x="260" y="1497">←OR2C3</text><text x="420" y="1497">OR2L8→</text>
<text x="90" y="1515">←MIR3916</text><text x="450" y="1515">OR2AK2→</text>
</g>
<g class="g">
<text x="655" y="1464">ACOT11→</text><text x="728" y="1464">TTC4→</text><text x="770" y="1464">LEXM→</text><text x="870" y="1464">TMEM61→</text><text x="950" y="1464">←USP24</text>
<text x="663" y="1482">←FAM151A</text><text x="738" y="1482">←PARS2</text><text x="784" y="1482">←DHCR24</text><text x="870" y="1482">BSND→</text><text x="968" y="1482">LOC100507634→</text>
<text x="690" y="1500">MROH7→</text><text x="755" y="1500">←TTC22</text><text x="875" y="1500">PCSK9→</text><text x="955" y="1500">MIR4422→</text>
<text x="690" y="1518">MROH7–TTC4→</text>
</g>
</svg>
</body></html>
